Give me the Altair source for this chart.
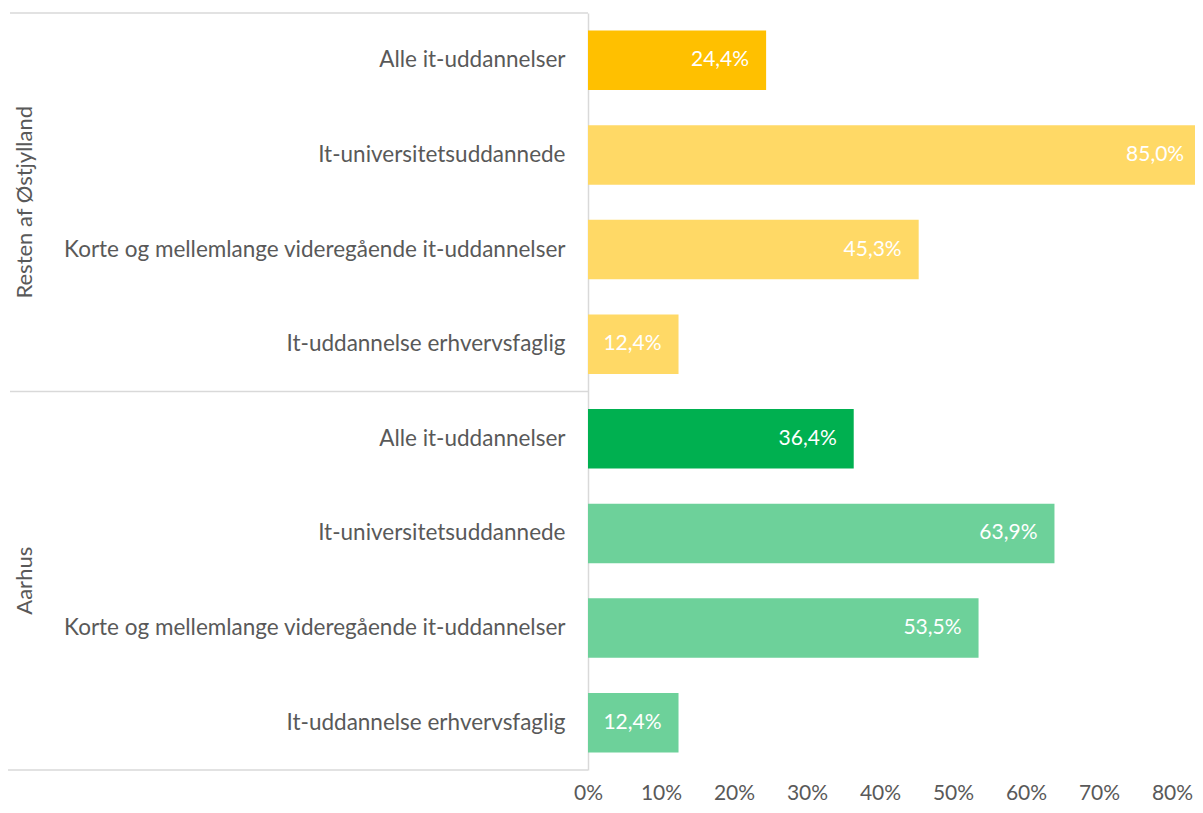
import altair as alt
import pandas as pd

groups = ["Resten af Østjylland"] * 4 + ["Aarhus"] * 4
categories = [
    "Alle it-uddannelser",
    "It-universitetsuddannede",
    "Korte og mellemlange videregående it-uddannelser",
    "It-uddannelse erhvervsfaglig",
] * 2
values = [24.4, 85.0, 45.3, 12.4, 36.4, 63.9, 53.5, 12.4]
shade = ["Resten-alle", "Resten", "Resten", "Resten",
         "Aarhus-alle", "Aarhus", "Aarhus", "Aarhus"]
shade_domain = ["Resten-alle", "Resten", "Aarhus-alle", "Aarhus"]
shade_colors = ["#FFC000", "#FFD966", "#00B050", "#6DD19A"]
x_ticks = [0, 10, 20, 30, 40, 50, 60, 70, 80]
group_order = ["Resten af Østjylland", "Aarhus"]

df = pd.DataFrame({
    "group": groups,
    "category": categories,
    "value": values,
    "shade": shade,
})
df["key"] = df["group"] + "|" + df["category"]
key_order = list(df["key"])

FONT = "Lato"
TXT = "#595959"
LINE = "#D9D9D9"
W, H = 584, 757

base = alt.Chart(df)
y_scale = alt.Scale(paddingInner=0.37, paddingOuter=0.185)

y_enc = alt.Y(
    "key:N",
    sort=key_order,
    scale=y_scale,
    axis=alt.Axis(
        title=None, orient="left",
        labelExpr="split(datum.label, '|')[1]",
        labelFont=FONT, labelFontSize=22.5, labelColor=TXT,
        labelPadding=23, labelLimit=600,
        ticks=False, domain=True, domainColor=LINE, domainWidth=1.5,
        grid=False,
    ),
)
x_enc = alt.X(
    "value:Q",
    scale=alt.Scale(domain=[0, 80], nice=False),
    axis=alt.Axis(
        title=None, values=x_ticks, labelExpr="datum.value + '%'",
        labelFont=FONT, labelFontSize=21, labelColor=TXT, labelFlush=False,
        labelPadding=12, ticks=False, domain=False, grid=False,
    ),
)

bars = base.mark_bar().encode(
    x=x_enc,
    y=y_enc,
    color=alt.Color("shade:N", scale=alt.Scale(domain=shade_domain, range=shade_colors), legend=None),
)

labels = base.transform_calculate(
    lab="replace(format(datum.value, '.1f'), '.', ',') + '%'",
    lx="min(datum.value, 84)",
).mark_text(
    align="right", baseline="middle", dx=-17, font=FONT, fontSize=21, color="white"
).encode(
    x="lx:Q",
    y=alt.Y("key:N", sort=key_order),
    text="lab:N",
)

group_df = pd.DataFrame({"group": group_order})
group_layers = []
for i, g in enumerate(group_order):
    group_layers.append(
        alt.Chart(group_df).transform_filter(alt.datum.group == g).mark_text(
            angle=270, align="center", baseline="middle", font=FONT, fontSize=22, color=TXT
        ).encode(
            x=alt.value(-563),
            y=alt.value(H * (2 * i + 1) / 4),
            text="group:N",
        )
    )

frame_df = pd.DataFrame({"edge": ["line"]})
frame = alt.Chart(frame_df).mark_rule(color=LINE, strokeWidth=1.5).encode(
    x=alt.value(-578), x2=alt.value(0), y=alt.value(0)
)
frame_mid = alt.Chart(frame_df).mark_rule(color=LINE, strokeWidth=1.5).encode(
    x=alt.value(-578), x2=alt.value(0), y=alt.value(H / 2)
)
frame_bot = alt.Chart(frame_df).mark_rule(color=LINE, strokeWidth=1.5).encode(
    x=alt.value(-580), x2=alt.value(0), y=alt.value(H)
)

chart = alt.layer(bars, labels, *group_layers, frame, frame_mid, frame_bot).properties(
    width=W, height=H,
    background="white",
    autosize=alt.AutoSizeParams(type="none"),
    padding={"left": 580, "top": 5, "right": 23, "bottom": 35},
).configure_view(stroke="transparent", strokeWidth=0)

chart.save("out.html", embed_options={"renderer": "svg", "actions": False})
